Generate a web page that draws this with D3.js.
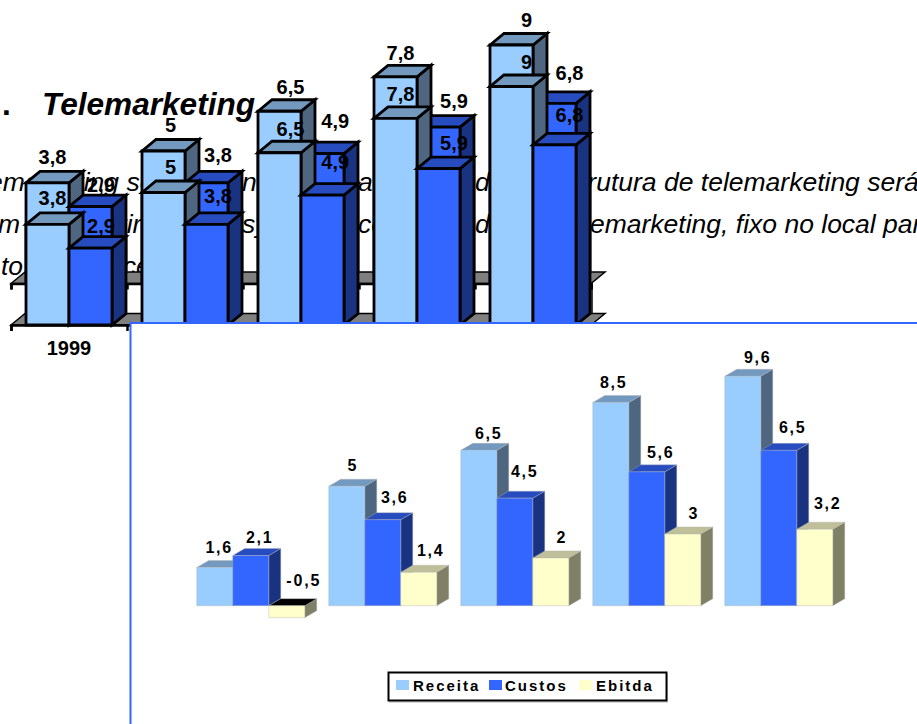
<!DOCTYPE html>
<html lang="pt">
<head>
<meta charset="utf-8">
<title>Telemarketing</title>
<style>
  html, body { margin: 0; padding: 0; background: #fff; }
  svg { display: block; font-family: "Liberation Sans", Arial, Helvetica, sans-serif; }
</style>
</head>
<body>
<svg id="page" width="917" height="724"></svg>
<script src="https://cdn.jsdelivr.net/npm/d3@7/dist/d3.min.js"></script>
<script>
// Telemarketing chart: values
const years = ["1999", "2000", "2001", "2002", "2003"];
const telReceita = [3.8, 5, 6.5, 7.8, 9];
const telCustos = [2.9, 3.8, 4.9, 5.9, 6.8];

// Consolidated chart: values
const receita = [1.6, 5, 6.5, 8.5, 9.6];
const custos = [2.1, 3.6, 4.5, 5.6, 6.5];
const ebitda = [-0.5, 1.4, 2, 3, 3.2];

// Hand-placed data label offsets, one pair per bar
const telLabelDx = [[5, 7, 11, 5, 15], [10.5, 11.5, 12.7, 15.5, 15]];
const telLabelDy = [[0, 0, 2, 2, 1], [4, -2, -7, 0, -4]];
const labelDx = [[3.5, 5, 9, 2, 14], [8, 11, 9, 13, 13], [16, 11, 10, 10, 12]];
const labelDy = [[-20, -21, -17, -20, -19], [-18, -22, -27, -20, -23], [-25, -22, -21, -21, -26]];

// Page copy running behind the charts
const heading = "Telemarketing";
const bodyRuns = [
  { y: 191, x: -40, text: "telemarketing será" },
  { y: 191, x: 242, text: "nesta" },
  { y: 191, x: 358, text: "a" },
  { y: 191, x: 475, text: "da" },
  { y: 191, x: 552, text: "estrutura de telemarketing será" },
  { y: 233, x: -30, text: "com" },
  { y: 233, x: 53, text: "adquirir" },
  { y: 233, x: 242, text: "system" },
  { y: 233, x: 358, text: "com" },
  { y: 233, x: 475, text: "de" },
  { y: 233, x: 562, text: "telemarketing, fixo no local para" },
  { y: 275, x: 1, text: "to" },
  { y: 275, x: 108, text: "acesso" }
];

const palette = {
  Receita: { front: "#99ccff", top: "#7399bf", side: "#4f6680" },
  Custos: { front: "#3366ff", top: "#264cbf", side: "#1a3380" },
  Ebitda: { front: "#ffffcc", top: "#bfbf99", side: "#808066" }
};

const svg = d3.select("#page");
const outline = d3.line();
const comma = v => String(v).replace(".", ",");

// Draws one 3D column: side, top and front faces
function column(g, x, w, yTop, yBase, dx, dy, colors, negative, style) {
  const faces = [
    [colors.side, [[x + w, yTop], [x + w + dx, yTop + dy], [x + w + dx, yBase + dy], [x + w, yBase]]],
    [negative ? "#000000" : colors.top, [[x, yTop], [x + dx, yTop + dy], [x + w + dx, yTop + dy], [x + w, yTop]]],
    [colors.front, [[x, yTop], [x + w, yTop], [x + w, yBase], [x, yBase]]]
  ];
  g.selectAll(null).data(faces).join("path")
    .attr("d", d => outline(d[1]) + "Z")
    .attr("fill", d => d[0])
    .attr("stroke", style.stroke)
    .attr("stroke-width", style.width)
    .attr("stroke-linejoin", "miter");
}

// Body copy and heading
const copy = svg.append("g").attr("fill", "#000");
copy.selectAll("text.run").data(bodyRuns).join("text")
  .attr("class", "run")
  .attr("x", d => d.x)
  .attr("y", d => d.y)
  .attr("font-size", 26.5)
  .attr("font-style", "italic")
  .text(d => d.text);
copy.append("text").attr("x", 2).attr("y", 115)
  .attr("font-size", 31.6).attr("font-weight", "bold").text(".");
copy.append("text").attr("x", 42).attr("y", 115)
  .attr("font-size", 31.6).attr("font-weight", "bold").attr("font-style", "italic").text(heading);

// Telemarketing chart, drawn twice with a vertical offset
const telX = d3.scaleBand().domain(years).range([11, 591])
  .paddingInner(30 / 116).paddingOuter(15 / 116);
const telSeries = d3.scaleBand().domain(["Receita", "Custos"]).range([0, telX.bandwidth()]);
const telY = d3.scaleLinear().domain([0, 10]).range([325, 60]);
const telTicks = d3.scaleLinear().domain([0, years.length]).range([11, 591]);
const DX = 14, DY = -11.5;
const BACK_OFFSET = -41.5;

function drawTelemarketing(offsetY, withCategories) {
  const g = svg.append("g").attr("transform", `translate(0,${offsetY})`);
  const y0 = telY(0);

  g.append("path")
    .attr("d", outline([[11, y0], [11 + DX, y0 + DY], [591 + DX, y0 + DY], [591, y0]]) + "Z")
    .attr("fill", "#808080").attr("stroke", "#000").attr("stroke-width", 1.5);

  const axis = g.append("g").attr("transform", `translate(0,${y0})`)
    .call(d3.axisBottom(telTicks).ticks(years.length).tickSize(6).tickFormat(""));
  axis.selectAll("path, line").attr("stroke", "#000").attr("stroke-width", 2.5);

  [telReceita, telCustos].forEach((values, s) => {
    const name = telSeries.domain()[s];
    values.forEach((v, i) => {
      column(g, telX(years[i]) + telSeries(name), telSeries.bandwidth(), telY(v), y0, DX, DY,
        palette[name], false, { stroke: "#000", width: 2.8 });
    });
  });

  [telReceita, telCustos].forEach((values, s) => {
    const name = telSeries.domain()[s];
    g.selectAll(null).data(values).join("text")
      .attr("x", (v, i) => telX(years[i]) + telSeries(name) + telSeries.bandwidth() / 2 + telLabelDx[s][i])
      .attr("y", (v, i) => telY(v) - 19 + telLabelDy[s][i])
      .attr("text-anchor", "middle")
      .attr("font-size", 20).attr("font-weight", "bold").attr("fill", "#000")
      .text(comma);
  });

  if (withCategories) {
    const labels = g.append("g").attr("transform", `translate(0,${y0})`)
      .call(d3.axisBottom(telX).tickSize(0).tickPadding(12));
    labels.select(".domain").remove();
    labels.selectAll("text")
      .attr("y", 30).attr("dy", null)
      .attr("font-family", "inherit").attr("font-size", 20).attr("font-weight", "bold").attr("fill", "#000");
  }
}

drawTelemarketing(BACK_OFFSET, false);

// Short rule tying the two floors together at the right end
svg.append("line")
  .attr("x1", 592).attr("x2", 592)
  .attr("y1", telY(0) + BACK_OFFSET).attr("y2", telY(0) + DY)
  .attr("stroke", "#000").attr("stroke-width", 1.5);

drawTelemarketing(0, true);

// White panel holding the consolidated chart
svg.append("rect")
  .attr("x", 130.5).attr("y", 323).attr("width", 800).attr("height", 420)
  .attr("fill", "#fff").attr("stroke", "#3366ff").attr("stroke-width", 2);

// Consolidated chart
const x = d3.scaleBand().domain(years).range([184.75, 844.75])
  .paddingInner(24 / 132).paddingOuter(12 / 132);
const seriesNames = ["Receita", "Custos", "Ebitda"];
const xSeries = d3.scaleBand().domain(seriesNames).range([0, x.bandwidth()]);
const y = d3.scaleLinear().domain([-1, 10]).range([629.6, 366.7]);
const chart = svg.append("g");

[receita, custos, ebitda].forEach((values, s) => {
  const name = seriesNames[s];
  values.forEach((v, i) => {
    const yv = y(v), y0 = y(0), neg = v < 0;
    column(chart, x(years[i]) + xSeries(name), xSeries.bandwidth(),
      neg ? y0 : yv, neg ? yv : y0, 12, -7,
      palette[name], neg, { stroke: "#b0b0b0", width: 0.4 });
  });
});

[receita, custos, ebitda].forEach((values, s) => {
  const name = seriesNames[s];
  chart.selectAll(null).data(values).join("text")
    .attr("x", (v, i) => x(years[i]) + xSeries(name) + xSeries.bandwidth() / 2 + labelDx[s][i] + 1)
    .attr("y", (v, i) => Math.min(y(v), y(0)) + labelDy[s][i] + 5.7)
    .attr("text-anchor", "middle")
    .attr("font-size", 16).attr("font-weight", "bold").attr("letter-spacing", 1.8).attr("fill", "#000")
    .text(comma);
});

// Legend
const legendItems = [
  { name: "Receita", swatch: 396, label: 413 },
  { name: "Custos", swatch: 489, label: 505 },
  { name: "Ebitda", swatch: 579, label: 596 }
];
const legend = svg.append("g");
legend.append("rect").attr("x", 389).attr("y", 674).attr("width", 279).attr("height", 29).attr("fill", "#d8d8d8");
legend.append("rect").attr("x", 388.5).attr("y", 672.5).attr("width", 278).attr("height", 28)
  .attr("fill", "#fff").attr("stroke", "#000").attr("stroke-width", 2);
legend.selectAll("rect.swatch").data(legendItems).join("rect")
  .attr("class", "swatch")
  .attr("x", d => d.swatch).attr("y", 680).attr("width", 13).attr("height", 10)
  .attr("fill", d => palette[d.name].front);
legend.selectAll("text").data(legendItems).join("text")
  .attr("x", d => d.label).attr("y", 690.5)
  .attr("font-size", 15).attr("font-weight", "bold").attr("letter-spacing", 2).attr("fill", "#000")
  .text(d => d.name);
</script>
</body>
</html>
